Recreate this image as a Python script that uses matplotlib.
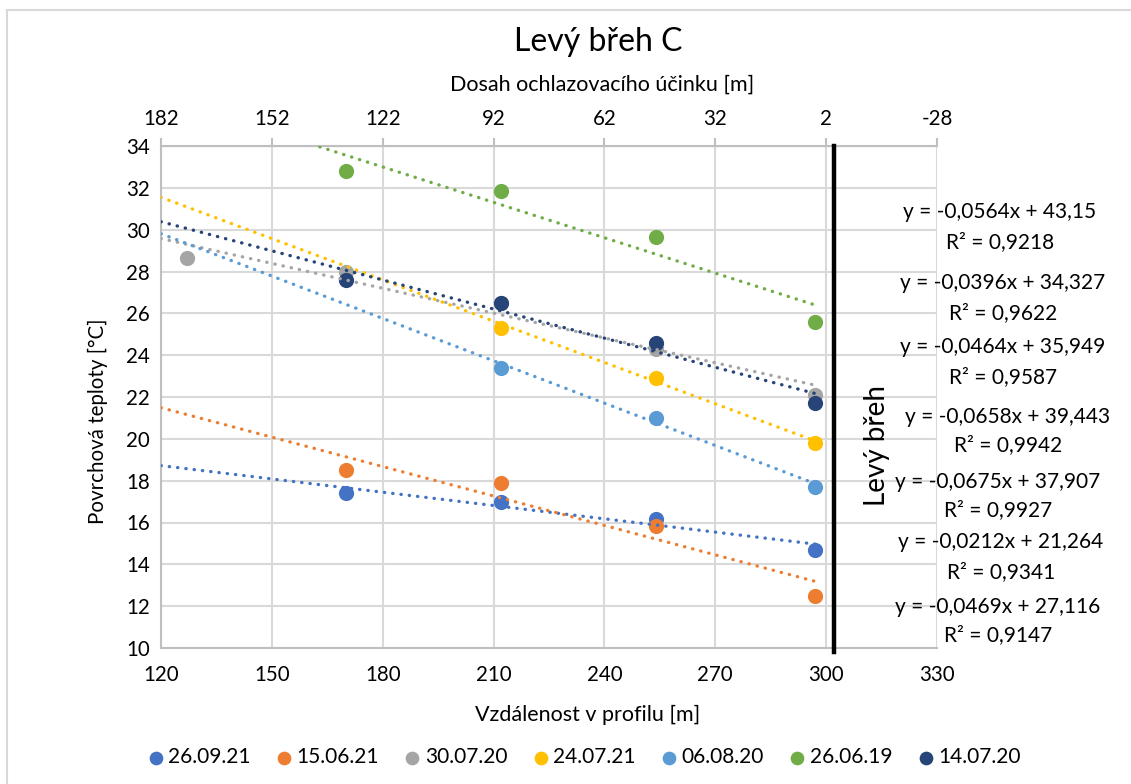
import matplotlib.pyplot as plt
from matplotlib.patches import Rectangle

plt.rcParams['font.family'] = ['Lato', 'DejaVu Sans']
plt.rcParams['axes.unicode_minus'] = False

# Measured surface temperatures along the profile
labels = ['26.09.21', '15.06.21', '30.07.20', '24.07.21', '06.08.20', '26.06.19', '14.07.20']
colors = ['#4472C4', '#ED7D31', '#A5A5A5', '#FFC000', '#5B9BD5', '#70AD47', '#264478']

x_2609 = [170, 212, 254, 297]
t_2609 = [17.4, 17.0, 16.15, 14.7]
x_1506 = [170, 212, 254, 297]
t_1506 = [18.5, 17.9, 15.85, 12.5]
x_3007 = [127, 170, 212, 254, 297]
t_3007 = [28.65, 28.0, 26.5, 24.3, 22.1]
x_2407 = [212, 254, 297]
t_2407 = [25.3, 22.9, 19.8]
x_0608 = [212, 254, 297]
t_0608 = [23.4, 21.0, 17.7]
x_2606 = [170, 212, 254, 297]
t_2606 = [32.8, 31.85, 29.65, 25.6]
x_1407 = [170, 212, 254, 297]
t_1407 = [27.6, 26.5, 24.6, 21.7]

xs = [x_2609, x_1506, x_3007, x_2407, x_0608, x_2606, x_1407]
ts = [t_2609, t_1506, t_3007, t_2407, t_0608, t_2606, t_1407]

# Linear trendlines (slope, intercept, R2) in the same series order
slopes = [-0.0212, -0.0469, -0.0396, -0.0658, -0.0675, -0.0564, -0.0464]
intercepts = [21.264, 27.116, 34.327, 39.443, 37.907, 43.15, 35.949]
r2 = [0.9341, 0.9147, 0.9622, 0.9942, 0.9927, 0.9218, 0.9587]

# order and position of the equation labels on the right
eq_order = [5, 2, 6, 3, 4, 0, 1]
eq_pos = [(1000, 212, 242), (1003, 283, 313), (1003, 347, 377), (1008, 417, 445),
          (998, 482, 510), (1001, 542, 572), (998, 607, 635)]

trend_start = 120
bank_x = 302

W, H = 1131, 784
fig = plt.figure(figsize=(W / 100, H / 100), dpi=100)
ax = fig.add_axes([161 / W, 1 - 648 / H, (937 - 161) / W, (648 - 146) / H])

grid_c = '#D9D9D9'
for i, lab in enumerate(labels):
    ax.scatter(xs[i], ts[i], s=120, color=colors[i], label=lab, zorder=3, linewidths=0)

for i in range(len(labels)):
    x_end = xs[i][-1]
    ax.plot([trend_start, x_end],
            [slopes[i] * trend_start + intercepts[i], slopes[i] * x_end + intercepts[i]],
            color=colors[i], lw=2.4, linestyle=(0, (0.1, 2.4)), dash_capstyle='round',
            zorder=4)

ax.set_xlim(120, 330)
ax.set_ylim(10, 34)
ax.set_xticks(range(120, 331, 30))
ax.set_yticks(range(10, 35, 2))
ax.grid(True, color=grid_c, lw=1.5)
ax.set_axisbelow(True)
for side in ['left', 'bottom', 'top']:
    ax.spines[side].set_color('#BFBFBF')
    ax.spines[side].set_linewidth(1.5)
ax.spines['right'].set_visible(False)
ax.tick_params(axis='both', length=0, labelsize=14.8)
ax.tick_params(axis='x', pad=12)
ax.tick_params(axis='y', pad=8)

# distance from the bank on the top axis
top = ax.secondary_xaxis('top', functions=(lambda v: bank_x - v, lambda v: bank_x - v))
top.set_xticks(range(182, -29, -30))
top.tick_params(length=6, width=1.5, color='#BFBFBF', labelsize=14.8, pad=6)
top.spines['top'].set_color('#BFBFBF')

# bank line
ax.plot([bank_x, bank_x], [34, 9.8], color='black', lw=3.2, clip_on=False, zorder=5)
fig.text(877 / W, 1 - 446 / H, 'Levý břeh', rotation=90, ha='center', va='center', fontsize=20)

for k, i in enumerate(eq_order):
    cx, y1, y2 = eq_pos[k]
    a = f'{abs(slopes[i]):.4f}'.replace('.', ',')
    b = f'{intercepts[i]:g}'.replace('.', ',')
    fig.text(cx / W, 1 - y1 / H, f'y = -{a}x + {b}', ha='center', va='center', fontsize=15)
    fig.text(cx / W, 1 - y2 / H, f'R² = {r2[i]:.4f}'.replace('.', ','), ha='center', va='center',
             fontsize=15)

fig.text(598 / W, 1 - 42 / H, 'Levý břeh C', ha='center', va='center', fontsize=23)
fig.text(602 / W, 1 - 85 / H, 'Dosah ochlazovacího účinku [m]', ha='center', va='center', fontsize=15.5)
fig.text(588 / W, 1 - 715 / H, 'Vzdálenost v profilu [m]', ha='center', va='center', fontsize=15.5)
fig.text(98 / W, 1 - 421 / H, 'Povrchová teploty [°C]', rotation=90, ha='center', va='center',
         fontsize=14.8)

fig.legend(loc='center', bbox_to_anchor=(582 / W, 1 - 757 / H), ncol=7, frameon=False,
           fontsize=15, handletextpad=0.0, columnspacing=1.0, markerscale=0.9, handlelength=1.2)

# chart area border
fig.patches.append(Rectangle((7 / W, -0.05), 1.1, 1 - 10 / H + 0.05, transform=fig.transFigure,
                             fill=False, edgecolor=grid_c, lw=1.5))

fig.savefig('out.png', dpi=100)
